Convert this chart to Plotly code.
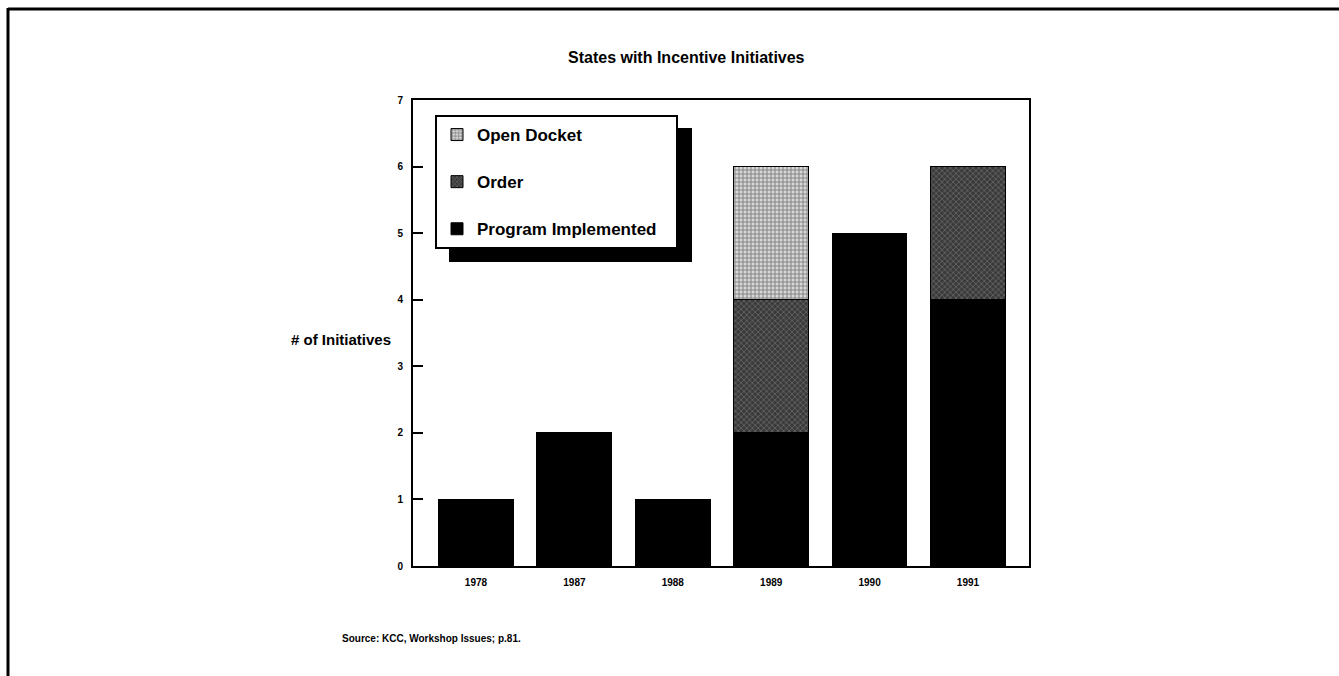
import plotly.graph_objects as go

years = ["1978", "1987", "1988", "1989", "1990", "1991"]
program_implemented = [1, 2, 1, 2, 5, 4]
order = [0, 0, 0, 2, 0, 2]
open_docket = [0, 0, 0, 2, 0, 0]
y_ticks = [0, 1, 2, 3, 4, 5, 6, 7]

FONT = "Liberation Sans, Arial, sans-serif"

# plot-area pixel geometry used to place page furniture in paper coords
L, R, T, B = 413, 1029, 100, 566
W, H = 1339, 676


def px(x):
    return (x - L) / (R - L)


def py(y):
    return (B - y) / (B - T)


fig = go.Figure()

fig.add_trace(go.Bar(
    x=years, y=program_implemented, name="<b>Program Implemented</b>\u00a0\u00a0\u00a0",
    marker=dict(color="black", line=dict(color="black", width=1)),
    width=0.76, legendgroup="p", legendrank=3,
))
fig.add_trace(go.Bar(
    x=years, y=order, name="<b>Order</b>",
    marker=dict(color="#3a3a3a", line=dict(color="black", width=1),
                pattern=dict(shape="x", fgcolor="#9a9a9a", size=4, solidity=0.35)),
    width=0.76, legendgroup="o", legendrank=2,
))
fig.add_trace(go.Bar(
    x=years, y=open_docket, name="<b>Open Docket</b>",
    marker=dict(color="#d8d8d8", line=dict(color="black", width=1),
                pattern=dict(shape="+", fgcolor="#303030", size=4, solidity=0.45)),
    width=0.76, legendgroup="d", legendrank=1,
))

shapes = [
    # page frame: top and left rules
    dict(type="line", xref="paper", yref="paper", x0=px(8), x1=px(W + 5),
         y0=py(9), y1=py(9), line=dict(color="black", width=3)),
    dict(type="line", xref="paper", yref="paper", x0=px(8), x1=px(8),
         y0=py(8), y1=py(H + 5), line=dict(color="black", width=3)),
    # legend drop shadow
    dict(type="rect", xref="paper", yref="paper", x0=px(449), x1=px(692),
         y0=py(128), y1=py(262), fillcolor="black", line=dict(width=0),
         layer="above"),
]

annotations = [
    dict(text="<b>States with Incentive Initiatives</b>", xref="paper", yref="paper",
         x=px(686), y=py(57), showarrow=False, xanchor="center", yanchor="middle",
         font=dict(family=FONT, size=16, color="black")),
    dict(text="<b># of Initiatives</b>", xref="paper", yref="paper",
         x=px(393), y=py(339), showarrow=False, xanchor="right", yanchor="middle",
         font=dict(family=FONT, size=15, color="black")),
    dict(text="<b>Source: KCC, Workshop Issues; p.81.</b>", xref="paper", yref="paper",
         x=px(340), y=py(638), showarrow=False, xanchor="left", yanchor="middle",
         font=dict(family=FONT, size=10, color="black")),
]

fig.update_layout(
    width=W, height=H,
    margin=dict(l=L, r=W - R, t=T, b=H - B, autoexpand=False),
    paper_bgcolor="white", plot_bgcolor="white",
    barmode="stack",
    shapes=shapes,
    annotations=annotations,
    font=dict(family=FONT, color="black"),
    legend=dict(
        x=px(435), y=py(115), xanchor="left", yanchor="top",
        xref="paper", yref="paper",
        bgcolor="white", bordercolor="black", borderwidth=2,
        traceorder="grouped", tracegroupgap=22,
        font=dict(family=FONT, size=17, color="black"),
        itemwidth=30,
    ),
    xaxis=dict(
        type="category", range=[-0.64, 5.62],
        tickvals=years, ticktext=[f"<b>{y}</b>" for y in years],
        showline=True, linecolor="black", linewidth=2, mirror=True,
        ticks="", showgrid=False, zeroline=False,
        tickfont=dict(family=FONT, size=10, color="black"),
        ticklabelstandoff=6,
    ),
    yaxis=dict(
        range=[0, 7], tickvals=y_ticks, ticktext=[f"<b>{v}</b>" for v in y_ticks],
        showline=True, linecolor="black", linewidth=2, mirror=True,
        ticks="inside", ticklen=10, tickwidth=1.5, tickcolor="black",
        showgrid=False, zeroline=False,
        tickfont=dict(family=FONT, size=10, color="black"),
        ticklabelstandoff=6,
    ),
)

fig.write_html("out.html")
